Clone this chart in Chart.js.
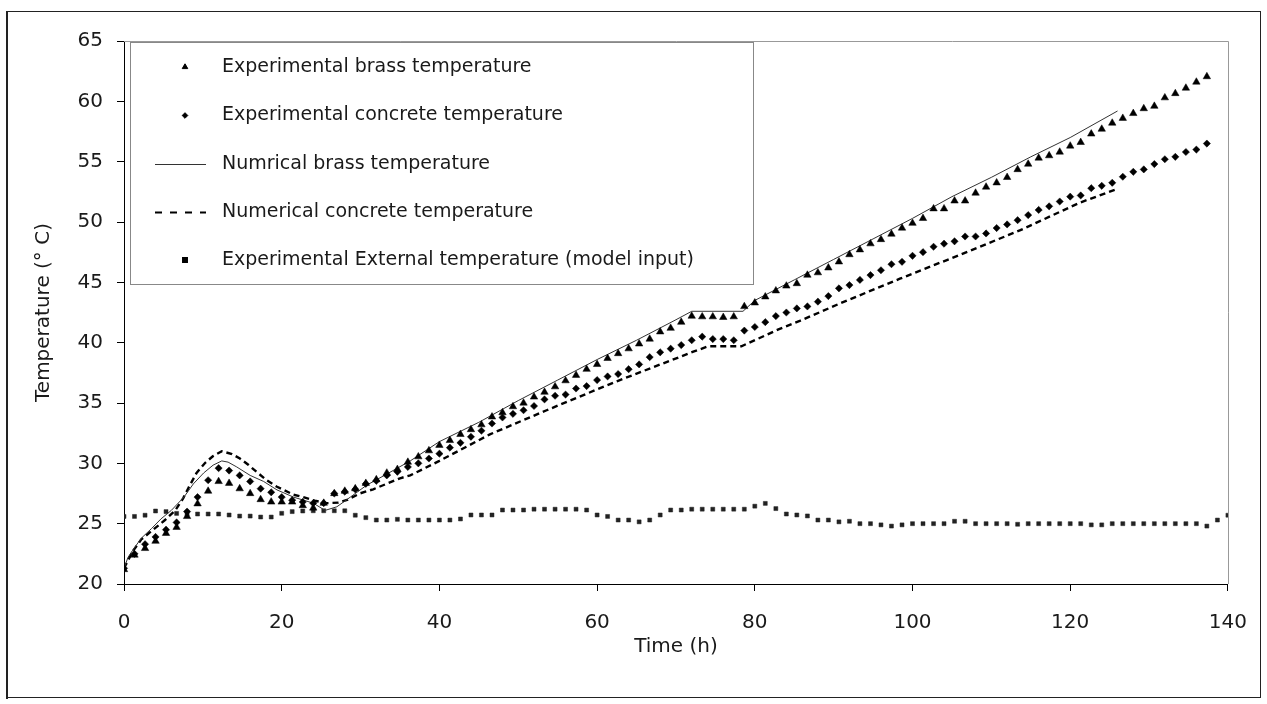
<!DOCTYPE html>
<html><head><meta charset="utf-8">
<script src="https://cdn.jsdelivr.net/npm/chart.js@4.4.1/dist/chart.umd.min.js"></script>
<style>html,body{margin:0;padding:0;background:#fff;}canvas{display:block;}</style>
</head><body>
<canvas id="c" width="1267" height="704"></canvas>
<script>
// ---- data (time in hours, temperature in °C) ----
const expTime = [0, 1.33, 2.67, 4, 5.33, 6.67, 8, 9.33, 10.67, 12, 13.33, 14.67, 16, 17.33, 18.67, 20, 21.33, 22.67, 24, 25.33, 26.67, 28, 29.33, 30.67, 32, 33.33, 34.67, 36, 37.33, 38.67, 40, 41.33, 42.67, 44, 45.33, 46.67, 48, 49.33, 50.67, 52, 53.33, 54.67, 56, 57.33, 58.67, 60, 61.33, 62.67, 64, 65.33, 66.67, 68, 69.33, 70.67, 72, 73.33, 74.67, 76, 77.33, 78.67, 80, 81.33, 82.67, 84, 85.33, 86.67, 88, 89.33, 90.67, 92, 93.33, 94.67, 96, 97.33, 98.67, 100, 101.33, 102.67, 104, 105.33, 106.67, 108, 109.33, 110.67, 112, 113.33, 114.67, 116, 117.33, 118.67, 120, 121.33, 122.67, 124, 125.33, 126.67, 128, 129.33, 130.67, 132, 133.33, 134.67, 136, 137.33, 138.67, 140];

const brassExp = [21.2, 22.4, 22.95, 23.55, 24.2, 24.7, 25.6, 26.65, 27.7, 28.5, 28.35, 27.9, 27.5, 27.0, 26.8, 26.8, 26.8, 26.5, 26.3, 26.7, 27.5, 27.7, 27.9, 28.35, 28.65, 29.2, 29.5, 30.1, 30.55, 31.05, 31.5, 31.9, 32.4, 32.8, 33.2, 33.85, 34.2, 34.7, 35.0, 35.5, 35.9, 36.35, 36.85, 37.3, 37.8, 38.2, 38.7, 39.1, 39.5, 39.9, 40.3, 40.9, 41.2, 41.7, 42.2, 42.15, 42.15, 42.1, 42.15, 43.0, 43.3, 43.8, 44.3, 44.7, 44.9, 45.6, 45.8, 46.2, 46.7, 47.3, 47.7, 48.2, 48.55, 49.0, 49.5, 49.9, 50.3, 51.1, 51.1, 51.75, 51.75, 52.4, 52.9, 53.25, 53.7, 54.35, 54.8, 55.3, 55.5, 55.8, 56.3, 56.6, 57.3, 57.7, 58.2, 58.6, 59.0, 59.4, 59.6, 60.3, 60.65, 61.1, 61.6, 62.05];

const concreteExp = [21.3, 22.5, 23.3, 23.9, 24.5, 25.1, 26.0, 27.2, 28.6, 29.6, 29.4, 29.0, 28.5, 27.9, 27.6, 27.2, 26.95, 26.8, 26.7, 26.7, 27.5, 27.65, 27.85, 28.3, 28.55, 29.0, 29.3, 29.7, 30.0, 30.4, 30.8, 31.3, 31.7, 32.2, 32.7, 33.3, 33.8, 34.1, 34.4, 34.75, 35.3, 35.6, 35.7, 36.2, 36.4, 36.9, 37.2, 37.4, 37.8, 38.2, 38.8, 39.2, 39.5, 39.8, 40.2, 40.5, 40.3, 40.3, 40.2, 41.0, 41.3, 41.7, 42.2, 42.5, 42.84, 43.0, 43.4, 43.86, 44.5, 44.77, 45.2, 45.6, 46.0, 46.5, 46.7, 47.2, 47.5, 47.95, 48.2, 48.4, 48.8, 48.8, 49.05, 49.5, 49.8, 50.15, 50.57, 51.0, 51.3, 51.7, 52.1, 52.2, 52.8, 53.0, 53.25, 53.75, 54.16, 54.36, 54.8, 55.2, 55.4, 55.8, 56.0, 56.5];

const externalExp = [25.6, 25.6, 25.7, 26.05, 26.0, 25.85, 25.8, 25.8, 25.8, 25.8, 25.72, 25.63, 25.63, 25.55, 25.55, 25.86, 26.0, 26.05, 26.07, 26.07, 26.07, 26.07, 25.7, 25.5, 25.3, 25.3, 25.36, 25.3, 25.3, 25.3, 25.3, 25.3, 25.39, 25.72, 25.72, 25.72, 26.13, 26.13, 26.13, 26.2, 26.2, 26.2, 26.2, 26.2, 26.13, 25.72, 25.6, 25.3, 25.3, 25.15, 25.3, 25.72, 26.13, 26.13, 26.2, 26.2, 26.2, 26.2, 26.2, 26.2, 26.45, 26.68, 26.25, 25.8, 25.72, 25.64, 25.3, 25.3, 25.15, 25.2, 25.0, 25.0, 24.9, 24.8, 24.9, 25.0, 25.0, 25.0, 25.0, 25.2, 25.2, 25.0, 25.0, 25.0, 25.0, 24.95, 25.0, 25.0, 25.0, 25.0, 25.0, 25.0, 24.9, 24.9, 25.0, 25.0, 25.0, 25.0, 25.0, 25.0, 25.0, 25.0, 25.0, 24.8, 25.3, 25.7];

const numBrassTime = [0, 0.5, 1.1, 2.2, 3.5, 4.7, 6.0, 7.6, 8.8, 10.1, 11.3, 12.4, 13.2, 14.3, 16.0, 17.7, 19.4, 21.5, 24.0, 25.5, 27.0, 28.7, 30.8, 33.3, 36.3, 40, 45, 50, 55, 60, 65, 70, 72, 78.5, 80, 85, 90, 95, 100, 105, 110, 115, 120, 126];
const numBrass = [21.3, 22.2, 22.8, 23.8, 24.6, 25.4, 26.1, 27.2, 28.3, 29.2, 29.85, 30.2, 30.1, 29.7, 29.0, 28.5, 27.8, 27.2, 26.7, 26.1, 26.4, 27.2, 28.2, 29.1, 30.2, 31.8, 33.4, 35.2, 36.9, 38.6, 40.2, 41.9, 42.6, 42.6, 43.5, 45.2, 46.9, 48.6, 50.3, 52.1, 53.7, 55.4, 57.0, 59.2];

const numConcTime = [0, 1.1, 2.2, 3.7, 5.2, 6.5, 7.5, 8.2, 9.2, 10.3, 11.3, 12.4, 13.7, 14.7, 15.8, 16.8, 18.1, 19.4, 21.5, 22.7, 24.2, 25.7, 27.2, 28.4, 29.9, 31.6, 33.3, 35.0, 36.3, 40, 46.4, 53.6, 62.5, 72.2, 74.1, 78.3, 83, 85.7, 90.8, 98.4, 105.9, 113.6, 121.2, 125.8];
const numConc = [21.3, 22.7, 23.7, 24.5, 25.3, 26.1, 27.1, 28.0, 29.2, 30.05, 30.6, 31.0, 30.77, 30.4, 29.86, 29.3, 28.6, 28.06, 27.4, 27.2, 26.9, 26.7, 26.74, 27.0, 27.5, 27.85, 28.3, 28.76, 29.0, 30.2, 32.4, 34.4, 36.8, 39.25, 39.7, 39.7, 41.1, 41.8, 43.25, 45.3, 47.25, 49.3, 51.6, 52.7];

const seriesLabels = [
  'Experimental brass temperature',
  'Experimental concrete temperature',
  'Numrical brass temperature',
  'Numerical concrete temperature',
  'Experimental External temperature (model input)'
];
const xAxisTitle = 'Time (h)';
const yAxisTitle = 'Temperature (° C)';

// ---- helpers ----
function pts(t, v) { return v.map((y, i) => ({ x: t[i], y: y })); }
const FONT = 'DejaVu Sans';

const legendSpec = [
  { kind: 'point', style: 'triangle', r: 3.2 },
  { kind: 'point', style: 'rectRot', r: 2.8 },
  { kind: 'line', dash: [], width: 1, color: '#333' },
  { kind: 'line', dash: [7, 8], width: 2, color: '#000' },
  { kind: 'point', style: 'rect', r: 2.8 }
];

const framePlugin = {
  id: 'frameAndLegend',
  beforeDraw(chart) {
    const ctx = chart.ctx;
    ctx.save();
    ctx.fillStyle = '#fff';
    ctx.fillRect(0, 0, chart.width, chart.height);
    ctx.restore();
  },
  afterDraw(chart) {
    const ctx = chart.ctx, a = chart.chartArea;
    ctx.save();
    // plot-area frame (top & right)
    ctx.strokeStyle = '#999';
    ctx.lineWidth = 1;
    ctx.beginPath();
    ctx.moveTo(a.left, Math.round(a.top) + 0.5);
    ctx.lineTo(Math.round(a.right) + 0.5, Math.round(a.top) + 0.5);
    ctx.lineTo(Math.round(a.right) + 0.5, a.bottom);
    ctx.stroke();
    // outer border
    ctx.strokeStyle = '#222';
    ctx.strokeRect(7.5, 11.5, 1253, 686);
    ctx.fillStyle = '#222';
    ctx.fillRect(6, 11, 2, 688);

    // legend box
    const lx = a.left + 6, ly = a.top + 1, lw = 623, lh = 242;
    ctx.fillStyle = '#fff';
    ctx.fillRect(lx, ly, lw, lh);
    ctx.strokeStyle = '#888';
    ctx.lineWidth = 1;
    ctx.strokeRect(lx + 0.5, ly + 0.5, lw, lh);
    ctx.font = '19px "' + FONT + '"';
    ctx.textBaseline = 'middle';
    ctx.textAlign = 'left';
    const rowY = [25, 73.5, 122, 170, 218];
    chart.data.datasets.forEach((ds, i) => {
      const y = ly + rowY[i];
      const spec = legendSpec[i];
      const cx = lx + 55;
      if (spec.kind === 'point') {
        ctx.fillStyle = '#000';
        ctx.strokeStyle = '#000';
        Chart.helpers.drawPoint(ctx, { pointStyle: spec.style, radius: spec.r, rotation: 0, borderWidth: 1 }, cx, y);
      } else {
        ctx.strokeStyle = spec.color;
        ctx.lineWidth = spec.width;
        ctx.setLineDash(spec.dash);
        ctx.beginPath();
        ctx.moveTo(lx + 25, Math.round(y) + 0.5);
        ctx.lineTo(lx + 76, Math.round(y) + 0.5);
        ctx.stroke();
        ctx.setLineDash([]);
      }
      ctx.fillStyle = '#1a1a1a';
      ctx.fillText(ds.label, lx + 92, y);
    });
    ctx.restore();
  }
};

new Chart(document.getElementById('c'), {
  type: 'scatter',
  data: {
    datasets: [
      { label: seriesLabels[0], data: pts(expTime, brassExp), pointStyle: 'triangle', pointRadius: 4.3,
        backgroundColor: '#000', borderColor: '#000', borderWidth: 0.5, showLine: false },
      { label: seriesLabels[1], data: pts(expTime, concreteExp), pointStyle: 'rectRot', pointRadius: 3.6,
        backgroundColor: '#000', borderColor: '#000', borderWidth: 0.5, showLine: false },
      { label: seriesLabels[2], data: pts(numBrassTime, numBrass), showLine: true, pointRadius: 0,
        borderColor: '#333', borderWidth: 1, tension: 0 },
      { label: seriesLabels[3], data: pts(numConcTime, numConc), showLine: true, pointRadius: 0,
        borderColor: '#000', borderWidth: 2.4, borderDash: [6, 4], tension: 0 },
      { label: seriesLabels[4], data: pts(expTime, externalExp), pointStyle: 'rect', pointRadius: 2.8,
        backgroundColor: '#222', borderColor: '#222', borderWidth: 0.5, showLine: false }
    ]
  },
  options: {
    responsive: false,
    animation: false,
    devicePixelRatio: 1,
    layout: { padding: { left: 27, right: 39, top: 41, bottom: 40 } },
    plugins: { legend: { display: false }, tooltip: { enabled: false } },
    scales: {
      x: {
        type: 'linear', min: 0, max: 140,
        ticks: { stepSize: 20, color: '#1a1a1a', font: { family: FONT, size: 20 }, padding: 20, maxRotation: 0 },
        grid: { drawOnChartArea: false, drawTicks: true, tickLength: 7, color: '#000', tickWidth: 1 },
        border: { display: true, color: '#000', width: 1 },
        title: { display: true, text: xAxisTitle, color: '#1a1a1a', font: { family: FONT, size: 20 }, padding: { top: 4, bottom: 5 } },
        afterFit(scale) { scale.height = 80; }
      },
      y: {
        type: 'linear', min: 20, max: 65,
        ticks: { stepSize: 5, color: '#1a1a1a', font: { family: FONT, size: 20 }, padding: 14 },
        grid: { drawOnChartArea: false, drawTicks: true, tickLength: 7, color: '#000', tickWidth: 1 },
        border: { display: true, color: '#000', width: 1 },
        title: { display: true, text: yAxisTitle, color: '#1a1a1a', font: { family: FONT, size: 20 }, padding: { top: 5, bottom: 4 } },
        afterFit(scale) { scale.width = 97; }
      }
    }
  },
  plugins: [framePlugin]
});
</script>
</body></html>
